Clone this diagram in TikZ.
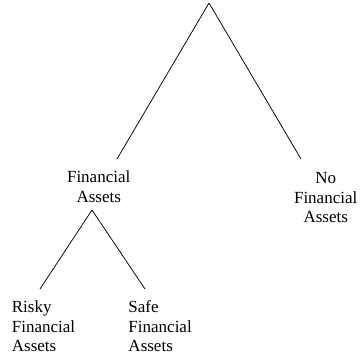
\documentclass[tikz,border=0pt]{standalone}
\usepackage{fontspec}
\setmainfont{Liberation Serif}
\begin{document}
\begin{tikzpicture}[x=1bp,y=-1bp,
    rotulo/.style={inner sep=0pt, font=\fontsize{17bp}{19.5bp}\selectfont},
    galho/.style={black, line width=0.75pt}]
    \useasboundingbox (0,0) rectangle (360,358);

    % Raiz e ponto de divisao
    \coordinate (raiz) at (209,3);
    \coordinate (divisao) at (92,210);

    \node[rotulo, align=center, anchor=north] (fin) at (98.7,171) {Financial\\Assets};
    \node[rotulo, align=center, anchor=north] (semfin) at (325.7,172.5) {No\\Financial\\Assets};
    \node[rotulo, align=left, anchor=north west] (arrisc) at (11.7,300.7) {Risky\\Financial\\Assets};
    \node[rotulo, align=left, anchor=north west] (seguro) at (128.3,300.5) {Safe\\Financial\\Assets};

    % Linhas da raiz
    \draw[galho] (raiz) -- ([xshift=18.3bp, yshift=12bp]fin.north);
    \draw[galho] (raiz) -- ([xshift=-24.7bp, yshift=13.5bp]semfin.north);

    % Linhas do segundo nivel
    \draw[galho] (divisao) -- ([xshift=28.3bp, yshift=11.7bp]arrisc.north west);
    \draw[galho] (divisao) -- ([xshift=16.7bp, yshift=11.5bp]seguro.north west);
\end{tikzpicture}
\end{document}
